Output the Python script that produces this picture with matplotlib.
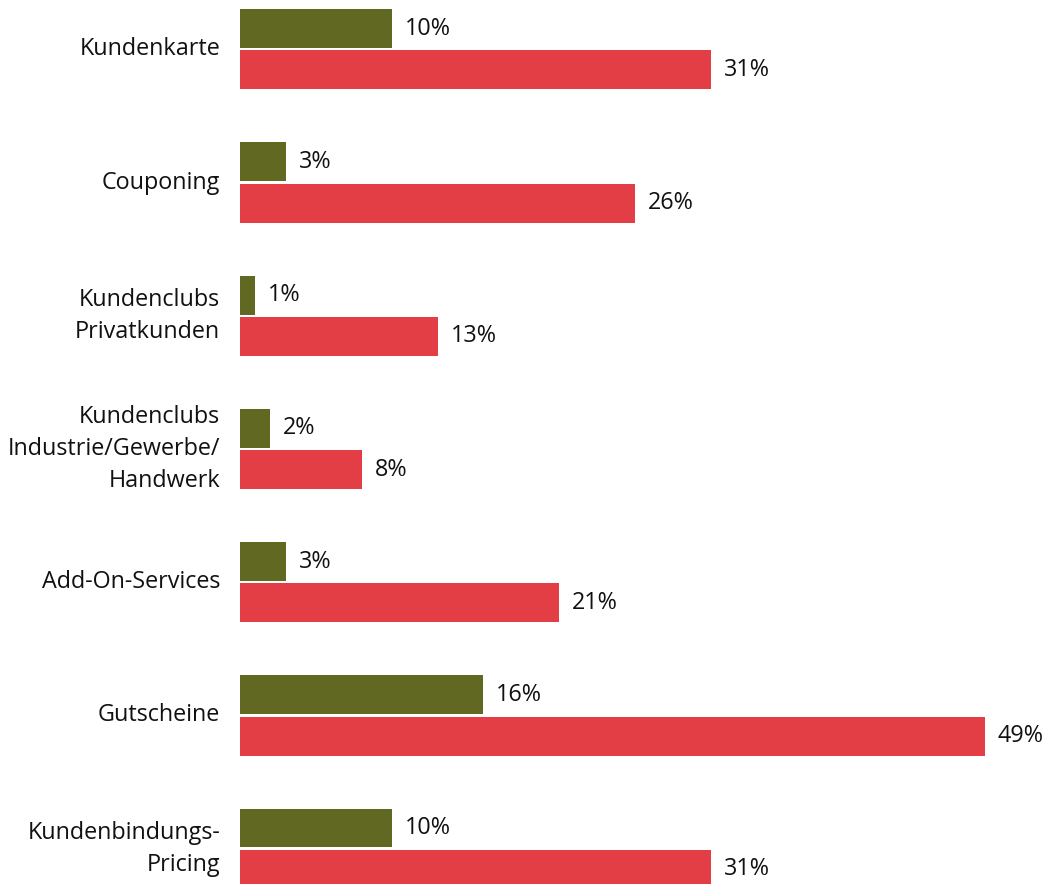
import matplotlib
matplotlib.use("Agg")
import matplotlib.pyplot as plt
import numpy as np

categories = [
    "Kundenkarte",
    "Couponing",
    "Kundenclubs\nPrivatkunden",
    "Kundenclubs\nIndustrie/Gewerbe/\nHandwerk",
    "Add-On-Services",
    "Gutscheine",
    "Kundenbindungs-\nPricing",
]
series_green = [10, 3, 1, 2, 3, 16, 10]
series_red = [31, 26, 13, 8, 21, 49, 31]

green = "#616822"
red = "#E33E45"

plt.rcParams["font.family"] = ["Open Sans", "DejaVu Sans"]

fig = plt.figure(figsize=(10.53, 8.84), dpi=100)
ax = fig.add_axes([240 / 1053, 0, 1 - 240 / 1053, 1])

y = np.arange(len(categories))
h = 0.292
off = 0.155
ax.barh(y - off, series_green, height=h, color=green)
ax.barh(y + off, series_red, height=h, color=red)

fs = 16.8
for yi, g, r in zip(y, series_green, series_red):
    ax.text(g + 0.85, yi - off, f"{g}%", va="center", ha="left", fontsize=fs, color="#111111")
    ax.text(r + 0.85, yi + off, f"{r}%", va="center", ha="left", fontsize=fs, color="#111111")

for yi, lab in zip(y, categories):
    ax.text(-1.3, yi, lab, va="center", ha="right", fontsize=fs, color="#111111",
            linespacing=1.45, transform=ax.transData, clip_on=False)

ax.set_xlim(0, 53.49)
ax.set_ylim(6.265, -0.37)
ax.axis("off")

fig.savefig("out.png", dpi=100, facecolor="white")
